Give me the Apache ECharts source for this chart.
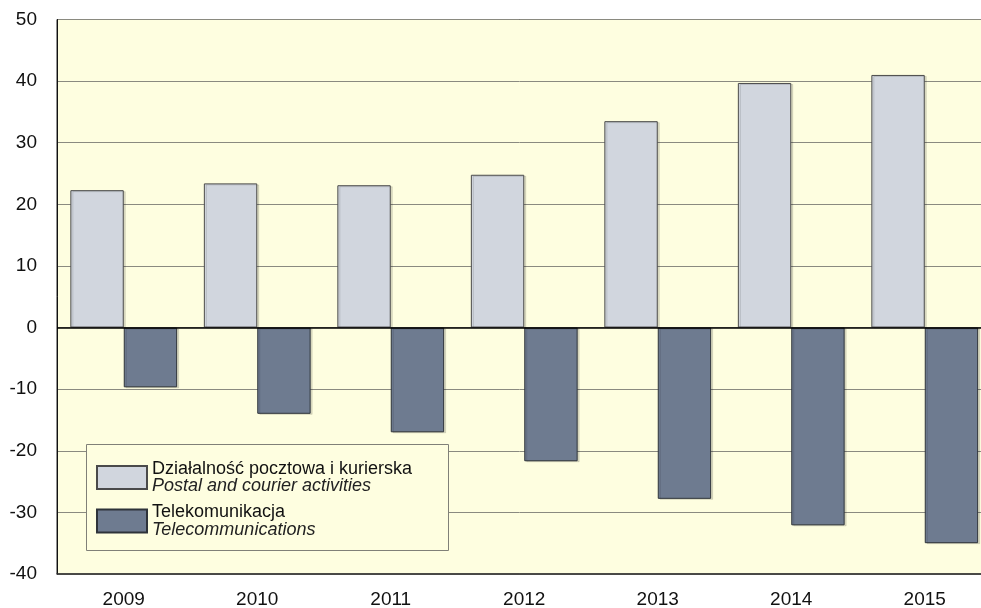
<!DOCTYPE html>
<html>
<head>
<meta charset="utf-8">
<script src="https://cdn.jsdelivr.net/npm/echarts@6/dist/echarts.min.js"></script>
<style>
  html, body { margin: 0; padding: 0; background: #ffffff; }
  #chart { width: 981px; height: 608px; }
</style>
</head>
<body>
<div id="chart"></div>
<script>
// Years on the category axis
const years = ['2009', '2010', '2011', '2012', '2013', '2014', '2015'];
// Postal and courier activities
const postal = [22.3, 23.4, 23.1, 24.8, 33.5, 39.7, 41.0];
// Telecommunications
const telecom = [-9.7, -14.0, -17.0, -21.7, -27.8, -32.1, -35.0];
// Value axis range
const yMin = -40, yMax = 50, yStep = 10;

const FONT = '"Liberation Sans", Arial, sans-serif';

const chart = echarts.init(document.getElementById('chart'), null, { renderer: 'canvas' });

const legendRich = {
  pl: { fontFamily: FONT, fontSize: 18, color: '#111', lineHeight: 17 },
  en: { fontFamily: FONT, fontSize: 18, fontStyle: 'italic', color: '#222', lineHeight: 17 }
};
const legendText = {
  'Działalność pocztowa i kurierska': ['Działalność pocztowa i kurierska', 'Postal and courier activities'],
  'Telekomunikacja': ['Telekomunikacja', 'Telecommunications']
};

chart.setOption({
  animation: false,
  backgroundColor: '#ffffff',
  grid: {
    left: 57, top: 19.5, width: 934.5, bottom: 34,
    outerBoundsMode: 'none',
    containLabel: false,
    show: true,
    backgroundColor: '#fefee0',
    borderColor: '#222',
    borderWidth: 1
  },
  xAxis: {
    type: 'category',
    data: years,
    axisLine: { onZero: false, lineStyle: { color: '#333', width: 1.5 } },
    axisTick: { show: false },
    axisLabel: { color: '#111', fontFamily: FONT, fontSize: 19, margin: 16 },
    splitLine: { show: false }
  },
  yAxis: {
    type: 'value',
    min: yMin, max: yMax, interval: yStep,
    axisLine: { show: true, lineStyle: { color: '#111', width: 1 } },
    axisTick: { show: false },
    axisLabel: { color: '#111', fontFamily: FONT, fontSize: 19, margin: 20 },
    splitLine: { show: true, lineStyle: { color: '#8a8a80', width: 1 } }
  },
  legend: {
    orient: 'vertical',
    left: 96, top: 460,
    padding: 0,
    itemGap: 8.5,
    itemWidth: 50, itemHeight: 23,
    icon: 'rect',
    z: 5,
    data: ['Działalność pocztowa i kurierska', 'Telekomunikacja'],
    formatter: name => '{pl|' + legendText[name][0] + '}\n{en|' + legendText[name][1] + '}',
    textStyle: { rich: legendRich }
  },
  graphic: [{
    type: 'rect',
    z: 4,
    shape: { x: 86.5, y: 444.5, width: 362, height: 106 },
    style: { fill: '#fefee0', stroke: '#808078', lineWidth: 1 }
  }],
  series: [
    {
      name: 'Działalność pocztowa i kurierska',
      type: 'bar',
      data: postal,
      barWidth: '40%',
      barGap: '0%',
      itemStyle: {
        color: '#d1d6de', borderColor: '#4a4a4a', borderWidth: 1,
        shadowColor: 'rgba(0,0,0,0.12)', shadowOffsetX: 2, shadowOffsetY: 1, shadowBlur: 0
      },
      markLine: {
        silent: true,
        symbol: 'none',
        label: { show: false },
        lineStyle: { color: '#000', width: 1.5, type: 'solid' },
        data: [{ yAxis: 0 }]
      }
    },
    {
      name: 'Telekomunikacja',
      type: 'bar',
      data: telecom,
      barWidth: '40%',
      barGap: '0%',
      itemStyle: {
        color: '#6e7b90', borderColor: '#2e333a', borderWidth: 1,
        shadowColor: 'rgba(0,0,0,0.12)', shadowOffsetX: 2, shadowOffsetY: 1, shadowBlur: 0
      }
    }
  ]
});
</script>
</body>
</html>
